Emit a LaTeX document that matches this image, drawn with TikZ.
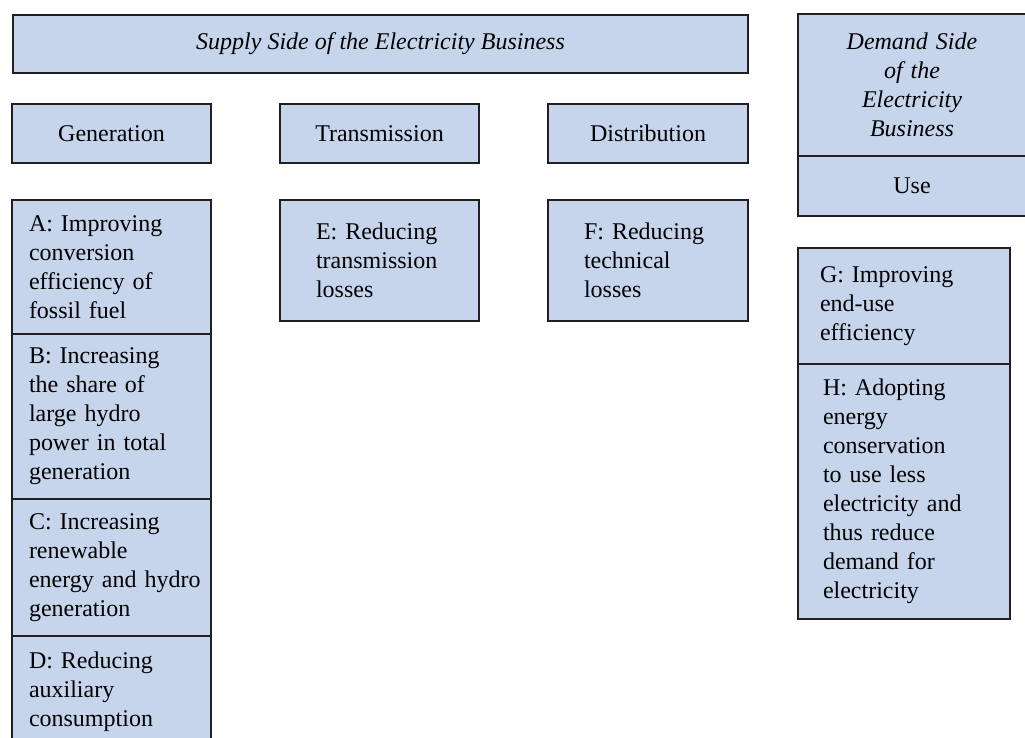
\documentclass[tikz,border=0pt]{standalone}
\usepackage{fontspec}
\setmainfont{Liberation Serif}
\usetikzlibrary{positioning}
\definecolor{boxfill}{RGB}{198,213,236}
\definecolor{edge}{RGB}{35,31,32}
\hyphenpenalty=10000
\exhyphenpenalty=10000
\tikzset{
  box/.style={draw=edge, line width=1pt, fill=boxfill, outer sep=0pt, inner ysep=0pt,
              font=\fontsize{12}{14.5}\selectfont},
  title/.style={box, font=\fontsize{12}{14.5}\selectfont\itshape, align=center},
  stage/.style={box, align=center, minimum width=99.5pt, minimum height=29.5pt},
  item/.style={box, align=left},
}

\begin{document}
\begin{tikzpicture}[x=0.5pt, y=-0.5pt, node distance=18.5pt and 34.5pt]
  \useasboundingbox (0,0) rectangle (1025,738);

  % supply side
  \node[title, anchor=north west, minimum width=367.5pt, minimum height=29pt] (supply) at (13,15)
    {Supply Side of the Electricity Business};
  \node[stage, anchor=north west] (gen) at (12,104) {Generation};
  \node[stage, right=of gen] (trans) {Transmission};
  \node[stage, right=of trans, minimum width=100pt] (dist) {Distribution};

  % generation measures
  \node[item, below=of gen, minimum height=67pt, inner xsep=8.5pt, text width=82.5pt] (a)
    {A: Improving\\conversion\\efficiency of\\fossil fuel};
  \node[item, below=0pt of a, minimum height=82.5pt, inner xsep=8.5pt, text width=82.5pt] (b)
    {B: Increasing\\the share of\\large hydro\\power in total\\generation};
  \node[item, below=0pt of b, minimum height=68.5pt, inner xsep=8.5pt, text width=82.5pt] (c)
    {C: Increasing\\renewable\\\mbox{energy and hydro}\\generation};
  \node[item, below=0pt of c, minimum height=56pt, inner xsep=8.5pt, text width=82.5pt] (d)
    {D: Reducing\\auxiliary\\consumption};

  \node[item, below=of trans, minimum height=60.5pt, inner xsep=18pt, text width=63.5pt] (e)
    {E: Reducing\\transmission\\losses};
  \node[item, below=of dist, minimum height=60.5pt, inner xsep=18pt, text width=64pt] (f)
    {F: Reducing\\technical\\losses};

  % demand side
  \node[title, anchor=north west, minimum width=114pt, minimum height=71pt, text width=100pt] (demand) at (798,14)
    {Demand Side\\of the\\Electricity\\Business};
  \node[box, below=0pt of demand, minimum width=114pt, minimum height=30pt] (use) {Use};

  \node[item, anchor=north west, minimum height=58pt, inner xsep=11pt, text width=84pt] (g) at (798,248)
    {G: Improving\\end-use\\efficiency};
  \node[item, below=0pt of g, minimum height=127.5pt, inner xsep=12.5pt, text width=81pt] (h)
    {H: Adopting\\energy\\conservation\\to use less\\electricity and\\thus reduce\\demand for\\electricity};
\end{tikzpicture}
\end{document}
